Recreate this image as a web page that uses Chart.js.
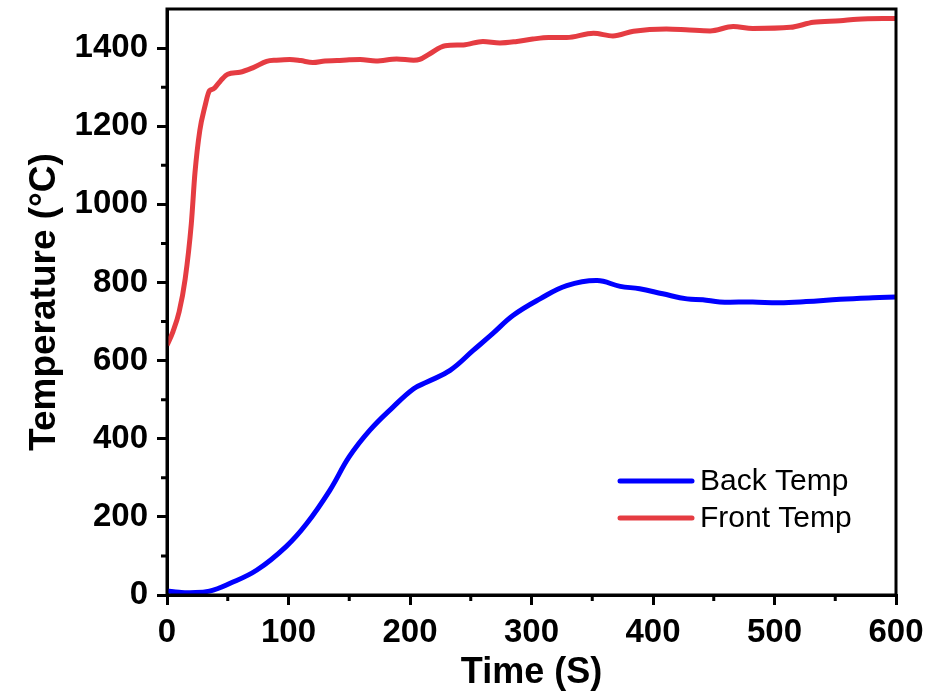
<!DOCTYPE html>
<html>
<head>
<meta charset="utf-8">
<title>Back / Front Temperature</title>
<script src="https://cdn.jsdelivr.net/npm/chart.js@4.4.1/dist/chart.umd.min.js"></script>
<style>
    html, body { margin: 0; padding: 0; background: #fff; }
    #wrap { width: 940px; height: 698px; }
</style>
</head>
<body>
<div id="wrap"><canvas id="tempChart" width="940" height="698"></canvas></div>
<script>
// values
const frontTime = [0, 5, 10, 15, 20, 23, 27, 31, 35, 38, 44, 50, 60, 71, 82, 90, 101, 110, 120, 130, 140, 150, 159, 172, 189, 203, 208, 216, 229, 244, 260, 274, 288, 301, 314, 329, 351, 367, 384, 411, 430, 447, 466, 482, 513, 532, 554, 568, 600];
const frontTemp = [639, 675, 725, 810, 950, 1080, 1189, 1248, 1291, 1295, 1316, 1333, 1338, 1350, 1366, 1369, 1371, 1368, 1363, 1367, 1368, 1370, 1371, 1367, 1372, 1369, 1371, 1385, 1406, 1408, 1417, 1413, 1417, 1423, 1427, 1427, 1438, 1431, 1443, 1449, 1446, 1444, 1455, 1450, 1453, 1466, 1470, 1474, 1476];

const backTime = [0, 10, 19, 35, 52, 74, 98, 115, 134, 150, 167, 186, 203, 214, 233, 252, 268, 285, 307, 329, 354, 373, 389, 408, 428, 441, 455, 482, 504, 526, 554, 581, 600];
const backTemp = [10, 7, 6, 10, 30, 64, 124, 183, 268, 354, 422, 481, 528, 545, 575, 626, 669, 716, 758, 792, 805, 790, 784, 771, 758, 756, 750, 750, 748, 751, 757, 761, 763];

const xTicks = [0, 100, 200, 300, 400, 500, 600];
const xMinor = [50, 150, 250, 350, 450, 550];
const yTicks = [0, 200, 400, 600, 800, 1000, 1200, 1400];
const yMinor = [100, 300, 500, 700, 900, 1100, 1300];

const seriesNames = ['Back Temp', 'Front Temp'];
const seriesColors = ['#0000ff', '#e53c42'];

const FONT = '"Liberation Sans", Arial, sans-serif';

function toPoints(xs, ys) {
    return xs.map((x, i) => ({ x: x, y: ys[i] }));
}

// box around the plot + short minor ticks
const frameAndMinor = {
    id: 'frameAndMinor',
    afterDraw(chart) {
        const ctx = chart.ctx;
        const a = chart.chartArea;
        const xs = chart.scales.x;
        const ys = chart.scales.y;
        ctx.save();
        ctx.strokeStyle = '#000';
        ctx.lineWidth = 3;
        ctx.strokeRect(a.left, a.top, a.right - a.left, a.bottom - a.top);

        ctx.beginPath();
        xMinor.forEach(v => {
            const px = xs.getPixelForValue(v);
            ctx.moveTo(px, a.bottom);
            ctx.lineTo(px, a.bottom + 6);
        });
        yMinor.forEach(v => {
            const py = ys.getPixelForValue(v);
            ctx.moveTo(a.left, py);
            ctx.lineTo(a.left - 6, py);
        });
        ctx.stroke();
        ctx.restore();
    }
};

// legend drawn inside the plot, lower right
const innerLegend = {
    id: 'innerLegend',
    afterDraw(chart) {
        const ctx = chart.ctx;
        const a = chart.chartArea;
        const x0 = a.left + 453;
        const y0 = a.top + 472;
        ctx.save();
        ctx.font = '30px ' + FONT;
        ctx.textBaseline = 'middle';
        ctx.fillStyle = '#000';
        seriesNames.forEach((name, i) => {
            const y = y0 + i * 37;
            ctx.strokeStyle = seriesColors[i];
            ctx.lineWidth = 5;
            ctx.lineCap = 'round';
            ctx.beginPath();
            ctx.moveTo(x0, y);
            ctx.lineTo(x0 + 72, y);
            ctx.stroke();
            ctx.fillText(name, x0 + 80, y + 1);
        });
        ctx.restore();
    }
};

const ctx = document.getElementById('tempChart').getContext('2d');

new Chart(ctx, {
    type: 'line',
    data: {
        datasets: [
            {
                label: seriesNames[0],
                data: toPoints(backTime, backTemp),
                borderColor: seriesColors[0],
                borderWidth: 5,
                pointRadius: 0,
                tension: 0.4,
                fill: false
            },
            {
                label: seriesNames[1],
                data: toPoints(frontTime, frontTemp),
                borderColor: seriesColors[1],
                borderWidth: 5,
                pointRadius: 0,
                cubicInterpolationMode: 'monotone',
                fill: false
            }
        ]
    },
    options: {
        responsive: false,
        animation: false,
        layout: {
            padding: { left: 0, top: 9, right: 44, bottom: 0 }
        },
        scales: {
            x: {
                type: 'linear',
                min: 0,
                max: 600,
                afterBuildTicks: (scale) => { scale.ticks = xTicks.map(v => ({ value: v })); },
                afterFit: (scale) => {
                    scale.height = 103;
                    scale.paddingLeft = 0;
                    scale.paddingRight = 0;
                },
                border: { display: true, color: '#000', width: 3 },
                grid: {
                    drawOnChartArea: false,
                    drawTicks: true,
                    tickLength: 10,
                    color: '#000',
                    lineWidth: 3
                },
                ticks: {
                    color: '#000',
                    padding: 8,
                    maxRotation: 0,
                    callback: (v) => String(v),
                    font: { family: FONT, size: 33, weight: 'bold' }
                },
                title: {
                    display: true,
                    text: 'Time (S)',
                    color: '#000',
                    padding: { top: 0, bottom: 3 },
                    font: { family: FONT, size: 36, weight: 'bold' }
                }
            },
            y: {
                type: 'linear',
                min: 0,
                max: 1500,
                afterBuildTicks: (scale) => { scale.ticks = yTicks.map(v => ({ value: v })); },
                afterFit: (scale) => {
                    scale.width = 167;
                    scale.paddingTop = 0;
                    scale.paddingBottom = 0;
                },
                border: { display: true, color: '#000', width: 3 },
                grid: {
                    drawOnChartArea: false,
                    drawTicks: true,
                    tickLength: 10,
                    color: '#000',
                    lineWidth: 3
                },
                ticks: {
                    color: '#000',
                    padding: 9,
                    callback: (v) => String(v),
                    font: { family: FONT, size: 33, weight: 'bold' }
                },
                title: {
                    display: true,
                    text: 'Temperature (°C)',
                    color: '#000',
                    padding: { top: 23, bottom: 0 },
                    font: { family: FONT, size: 37, weight: 'bold' }
                }
            }
        },
        plugins: {
            legend: { display: false },
            tooltip: { enabled: false }
        }
    },
    plugins: [frameAndMinor, innerLegend]
});
</script>
</body>
</html>
